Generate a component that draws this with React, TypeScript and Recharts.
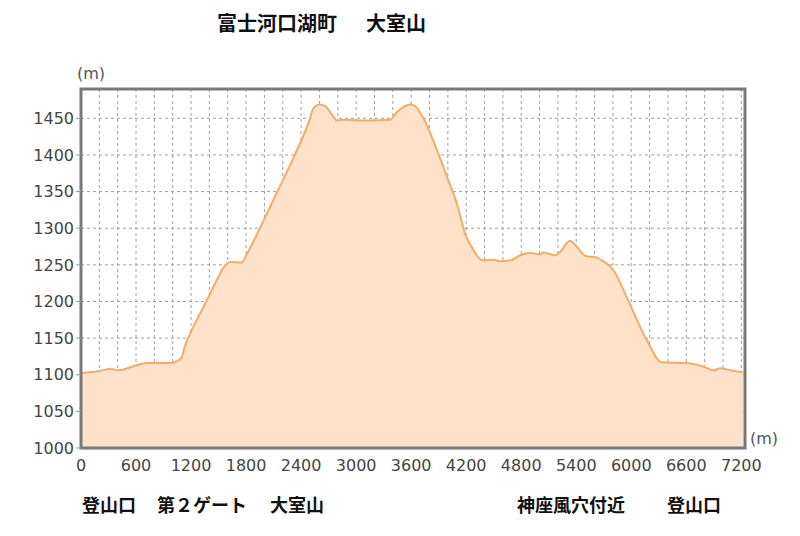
import { AreaChart, Area, XAxis, YAxis, CartesianGrid, ReferenceArea } from "recharts";

// 距離 (m) と標高 (m)
const distance = [
  0, 200, 330, 400, 460, 600, 720, 970, 1040, 1100, 1130, 1190, 1300, 1370, 1480, 1570, 1630, 1750, 1810, 1920,
  2130, 2320, 2500, 2530, 2600, 2660, 2730, 2790, 2860, 3110, 3370, 3440, 3590, 3640, 3730, 3840,
  3990, 4100, 4190, 4280, 4350, 4390, 4500, 4570, 4680, 4790, 4900, 5010, 5040, 5170, 5220, 5330,
  5410, 5500, 5620, 5680, 5810, 5950, 6170, 6330, 6600, 6790, 6900, 6970, 7080, 7220,
];
const elevation = [
  1102, 1105, 1108, 1106, 1107, 1113, 1116, 1116, 1118, 1124, 1138, 1156, 1184, 1201, 1229, 1249, 1254, 1253, 1265, 1292,
  1347, 1397, 1451, 1463, 1469, 1467, 1456, 1447, 1448, 1447, 1448, 1458, 1469, 1467, 1451, 1420,
  1370, 1333, 1292, 1270, 1258, 1256, 1257, 1255, 1256, 1263, 1266, 1264, 1267, 1263, 1267, 1283,
  1274, 1262, 1260, 1256, 1242, 1206, 1147, 1117, 1116, 1111, 1106, 1109, 1106, 1103,
];

const xTicks = [0, 600, 1200, 1800, 2400, 3000, 3600, 4200, 4800, 5400, 6000, 6600, 7200];
const yTicks = [1000, 1050, 1100, 1150, 1200, 1250, 1300, 1350, 1400, 1450];

const titleParts = ["富士河口湖町", "大室山"];
const landmarks = ["登山口", "第２ゲート", "大室山", "神座風穴付近", "登山口"];
const landmarkLeft = [82, 157, 270, 517, 667];

const data = distance.map((d, i) => ({ d, h: elevation[i] }));
const gridX = Array.from({ length: 37 }, (_, i) => i * 200);

const tickStyle = { fontSize: 16, fill: "#444", fontFamily: "DejaVu Sans" };

export default function App() {
  return (
    <div style={{ position: "absolute", left: 0, top: 0, width: 800, height: 536, background: "#fff" }}>
      <div
        style={{
          position: "absolute",
          left: 217,
          top: 12,
          fontSize: 20,
          lineHeight: "21px",
          fontWeight: "bold",
          fontFamily: "Noto Sans CJK JP",
          color: "#111",
          whiteSpace: "nowrap",
        }}
      >
        {titleParts[0]}
        <span style={{ marginLeft: 29 }}>{titleParts[1]}</span>
      </div>
      <div style={{ position: "absolute", left: 77, top: 64, fontSize: 16, fontFamily: "DejaVu Sans", color: "#555" }}>
        (m)
      </div>
      <div style={{ position: "absolute", left: 750, top: 429, fontSize: 16, fontFamily: "DejaVu Sans", color: "#555" }}>
        (m)
      </div>
      <AreaChart width={800} height={536} data={data} margin={{ top: 89, right: 55, bottom: 58, left: 21 }}>
        <CartesianGrid stroke="#a0a0a0" strokeDasharray="3 3" verticalValues={gridX} />
        <XAxis
          dataKey="d"
          type="number"
          domain={[0, 7240]}
          ticks={xTicks}
          interval={0}
          height={30}
          axisLine={false}
          tickLine={false}
          tickMargin={6}
          tick={tickStyle}
        />
        <YAxis
          type="number"
          domain={[1000, 1490]}
          ticks={yTicks}
          interval={0}
          width={60}
          axisLine={false}
          tickSize={5}
          tickMargin={2}
          tickLine={{ stroke: "#999" }}
          tick={tickStyle}
        />
        <Area
          type="monotone"
          dataKey="h"
          stroke="#f0ac6c"
          strokeWidth={2}
          fill="#fde1c8"
          fillOpacity={1}
          isAnimationActive={false}
        />
        <ReferenceArea
          x1={0}
          x2={7240}
          y1={1000}
          y2={1490}
          fill="none"
          stroke="#787878"
          strokeWidth={3}
          ifOverflow="visible"
        />
      </AreaChart>
      {landmarks.map((name, i) => (
        <div
          key={i}
          style={{
            position: "absolute",
            left: landmarkLeft[i],
            top: 495,
            fontSize: 18,
            lineHeight: "19px",
            fontWeight: "bold",
            fontFamily: "Noto Sans CJK JP",
            color: "#111",
          }}
        >
          {name}
        </div>
      ))}
    </div>
  );
}
